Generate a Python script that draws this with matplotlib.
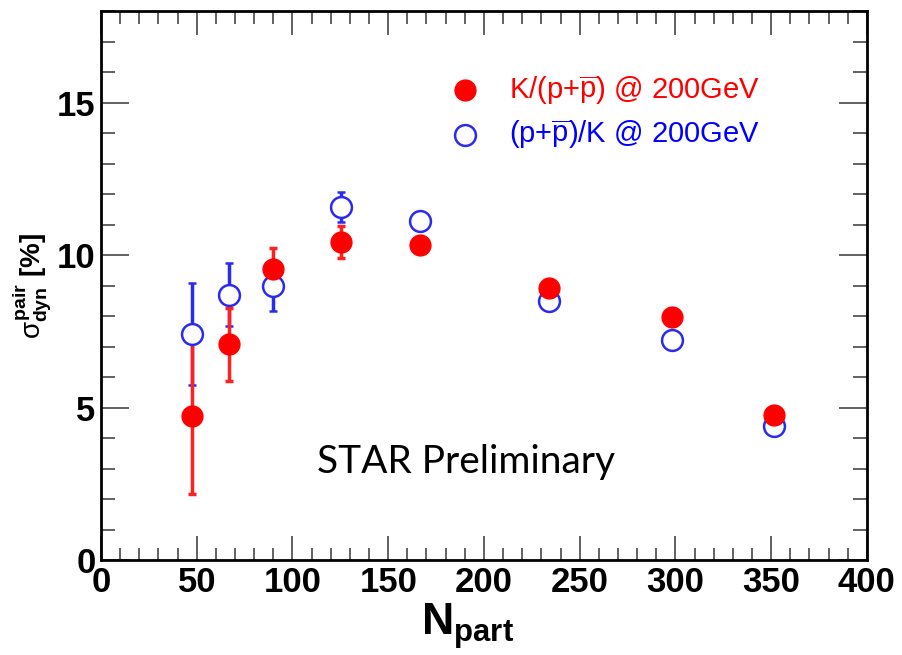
import numpy as np
import matplotlib.pyplot as plt
from matplotlib.ticker import MultipleLocator

plt.rcParams['font.family'] = ['Liberation Sans', 'DejaVu Sans']
plt.rcParams['mathtext.fontset'] = 'custom'
plt.rcParams['mathtext.rm'] = 'Liberation Sans'
plt.rcParams['mathtext.it'] = 'Liberation Sans'
plt.rcParams['mathtext.bf'] = 'Liberation Sans:bold'

npart = [47.5, 66.7, 89.6, 125.5, 166.6, 234.0, 298.4, 351.6]

# K/(p+pbar)
kp_val = [4.72, 7.07, 9.54, 10.43, 10.33, 8.91, 7.96, 4.77]
kp_err = [2.57, 1.2, 0.7, 0.52, 0.15, 0.12, 0.12, 0.12]

# (p+pbar)/K
pk_val = [7.40, 8.70, 8.98, 11.57, 11.12, 8.49, 7.20, 4.38]
pk_err = [1.67, 1.03, 0.8, 0.5, 0.15, 0.12, 0.12, 0.12]

fig = plt.figure(figsize=(9.02, 6.55), dpi=100)
ax = fig.add_axes([0.112, 0.145, 0.849, 0.838])

ax.errorbar(npart, pk_val, yerr=pk_err, fmt='o', color='#2a2af0', ecolor='#2a2af0',
            mfc='white', mec='#2a2af0', ms=15, mew=1.8, elinewidth=2.5, capsize=3, capthick=2.5)
ax.errorbar(npart, kp_val, yerr=kp_err, fmt='o', color='red', ecolor='#ff2020',
            mfc='red', mec='red', ms=15, elinewidth=2.5, capsize=3, capthick=2.5)

ax.set_xlim(0, 400)
ax.set_ylim(0, 18)
ax.xaxis.set_major_locator(MultipleLocator(50))
ax.xaxis.set_minor_locator(MultipleLocator(10))
ax.yaxis.set_major_locator(MultipleLocator(5))
ax.yaxis.set_minor_locator(MultipleLocator(1))
ax.tick_params(which='both', direction='in', top=True, right=True, color='#555555', width=1.3)
ax.tick_params(axis='x', which='major', length=17, labelsize=25, pad=4)
ax.tick_params(axis='x', which='minor', length=9)
ax.tick_params(axis='y', which='major', length=20, labelsize=25, pad=4)
ax.tick_params(axis='y', which='minor', length=10)
for lab in ax.get_xticklabels() + ax.get_yticklabels():
    lab.set_fontweight('bold')
for sp in ax.spines.values():
    sp.set_linewidth(2)

ax.set_xlabel(r'$\mathbf{N_{part}}$', fontsize=32)
ax.xaxis.set_label_coords(0.478, -0.075)
ax.set_ylabel(r'$\sigma^{\mathbf{pair}}_{\mathbf{dyn}}$ [%]', fontsize=20, fontweight='bold', labelpad=2)

# legend drawn by hand like the original
ax.plot([190], [15.4], 'o', color='red', ms=15)
ax.plot([190], [13.95], 'o', mfc='white', mec='#2a2af0', ms=15, mew=1.8)
ax.text(213, 15.4, r'K/(p+$\overline{\mathrm{p}}$) @ 200GeV', color='red', fontsize=21, va='center')
ax.text(213, 13.95, r'(p+$\overline{\mathrm{p}}$)/K @ 200GeV', color='blue', fontsize=21, va='center')

ax.text(113, 3.2, 'STAR Preliminary', fontsize=28, family='Lato', va='center')

fig.savefig('out.png', dpi=100)
